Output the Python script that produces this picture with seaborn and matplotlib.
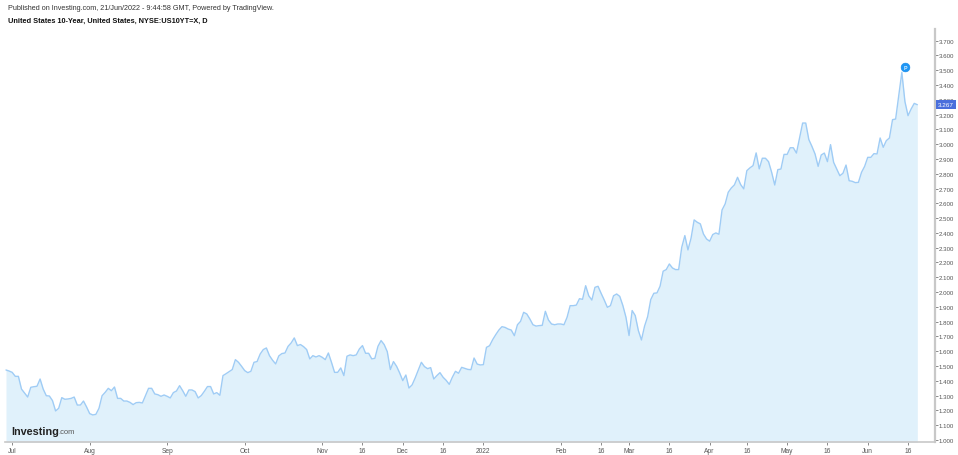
import matplotlib
matplotlib.use("Agg")
import matplotlib.pyplot as plt
import pandas as pd
import seaborn as sns

yields = [
 1.473,1.466,1.457,1.430,1.430,1.344,1.317,1.290,1.356,1.360,
 1.363,1.412,1.344,1.299,1.297,1.266,1.196,1.214,1.286,1.275,
 1.277,1.281,1.290,1.236,1.236,1.263,1.223,1.178,1.169,1.173,
 1.214,1.299,1.322,1.349,1.333,1.358,1.281,1.281,1.263,1.263,
 1.254,1.239,1.252,1.254,1.250,1.299,1.349,1.349,1.311,1.306,
 1.295,1.304,1.295,1.284,1.320,1.331,1.367,1.333,1.295,1.338,
 1.338,1.327,1.284,1.300,1.329,1.361,1.361,1.311,1.320,1.302,
 1.435,1.448,1.462,1.476,1.543,1.525,1.498,1.469,1.455,1.464,
 1.525,1.530,1.581,1.611,1.622,1.570,1.539,1.514,1.568,1.584,
 1.588,1.633,1.656,1.690,1.638,1.645,1.631,1.611,1.548,1.570,
 1.561,1.570,1.559,1.543,1.588,1.525,1.457,1.457,1.487,1.435,
 1.566,1.575,1.570,1.575,1.615,1.638,1.586,1.586,1.548,1.552,
 1.633,1.672,1.645,1.597,1.476,1.530,1.498,1.453,1.401,1.439,
 1.351,1.372,1.419,1.471,1.525,1.496,1.482,1.489,1.412,1.435,
 1.455,1.424,1.403,1.376,1.424,1.464,1.451,1.491,1.484,1.477,
 1.475,1.554,1.513,1.507,1.509,1.626,1.637,1.678,1.712,1.743,
 1.766,1.761,1.750,1.743,1.705,1.779,1.802,1.863,1.852,1.818,
 1.779,1.770,1.773,1.775,1.870,1.811,1.784,1.779,1.784,1.784,
 1.779,1.829,1.908,1.908,1.912,1.955,1.951,2.043,1.975,1.946,
 2.032,2.039,1.991,1.946,1.897,1.908,1.975,1.987,1.971,1.909,
 1.830,1.706,1.875,1.841,1.740,1.676,1.769,1.834,1.949,1.992,
 1.994,2.039,2.141,2.152,2.190,2.163,2.152,2.152,2.303,2.382,
 2.285,2.364,2.488,2.472,2.461,2.393,2.359,2.344,2.389,2.400,
 2.391,2.555,2.596,2.675,2.704,2.725,2.776,2.727,2.698,2.821,
 2.840,2.855,2.941,2.833,2.905,2.905,2.882,2.810,2.724,2.828,
 2.832,2.931,2.931,2.976,2.976,2.940,3.042,3.143,3.143,3.031,
 2.985,2.934,2.850,2.927,2.940,2.882,2.997,2.877,2.832,2.787,
 2.803,2.859,2.753,2.749,2.740,2.742,2.810,2.850,2.911,2.911,
 2.936,2.934,3.042,2.979,3.024,3.042,3.166,3.170,3.328,3.486,
 3.288,3.193,3.238,3.276,3.267,
]
sessions = list(range(len(yields)))
tick_sessions = [2, 27, 52, 77, 102, 115, 128, 141, 154, 179, 192, 201, 214, 227, 239, 252, 265, 278, 291]
tick_labels = ["Jul", "Aug", "Sep", "Oct", "Nov", "16", "Dec", "16", "2022", "Feb", "16",
               "Mar", "16", "Apr", "16", "May", "16", "Jun", "16"]
price_ticks = [1.0 + 0.1 * n for n in range(28)]
last_value = 3.267
pin_session = 290
pin_value = 3.524

W, H = 958, 456
sns.set_theme(style="white")
plt.rcParams["font.family"] = ["Liberation Sans", "DejaVu Sans"]

fig = plt.figure(figsize=(W / 100, H / 100), dpi=100, facecolor="white")
L, R, T, B = 5, 935, 30, 443.3
ax = fig.add_axes([L / W, 1 - B / H, (R - L) / W, (B - T) / H])

df = pd.DataFrame({"session": sessions, "yield": yields})
ymin, ymax = 0.984, 3.779
ax.fill_between(df["session"], df["yield"], ymin, color="#e0f1fb", lw=0, zorder=1)
sns.lineplot(data=df, x="session", y="yield", ax=ax, color="#9fccf5", lw=1.0, zorder=2)

ax.set_xlim(-0.32, 299.7)
ax.set_ylim(ymin, ymax)
ax.set_xlabel("")
ax.set_ylabel("")
ax.yaxis.tick_right()
ax.set_yticks(price_ticks)
ax.set_yticklabels([f"{v:.3f}" for v in price_ticks])
ax.set_xticks(tick_sessions)
ax.set_xticklabels(tick_labels)
ax.tick_params(axis="y", length=2, width=0.6, color="#777777", labelsize=4.4,
               labelcolor="#555555", pad=0.8, right=True)
ax.tick_params(axis="x", length=2, width=0.6, color="#777777", labelsize=4.8,
               labelcolor="#555555", pad=1.5, bottom=True)
for s in ("left", "top"):
    ax.spines[s].set_visible(False)
ax.spines["right"].set_color("#c8c8c8")
ax.spines["right"].set_linewidth(1.6)
ax.spines["bottom"].set_color("#c8c8c8")
ax.spines["bottom"].set_linewidth(1.2)

# last value label
ax.text(1.0035, last_value, f"{last_value:.3f}", transform=ax.get_yaxis_transform(),
        ha="left", va="center", fontsize=4.6, color="white", zorder=6, clip_on=False,
        bbox=dict(boxstyle="square,pad=0.35", fc="#4a6fdc", ec="none"))

# published pin
ax.scatter([pin_session], [pin_value], s=40, color="#1e96f5", edgecolors="#0f86e8", lw=0.4, zorder=5)
ax.text(pin_session, pin_value - 0.002, "P", ha="center", va="center", fontsize=3.8,
        color="#dff1ff", fontweight="bold", zorder=6)

# header
fig.text(8 / W, 1 - 9 / H, "Published on Investing.com, 21/Jun/2022 - 9:44:58 GMT, Powered by TradingView.",
         ha="left", va="center", fontsize=5.2, color="#333333")
fig.text(8 / W, 1 - 21 / H, "United States 10-Year, United States, NYSE:US10YT=X, D",
         ha="left", va="center", fontsize=5.3, color="#111111", fontweight="bold")

# logo
fig.text(11 / W, 1 - 432 / H, "Investing", ha="left", va="center", fontsize=7.8,
         color="#222222", fontweight="bold")
fig.text(58 / W, 1 - 433 / H, ".com", ha="left", va="center", fontsize=5.4, color="#555555")

fig.savefig("out.png", dpi=100, facecolor="white")
